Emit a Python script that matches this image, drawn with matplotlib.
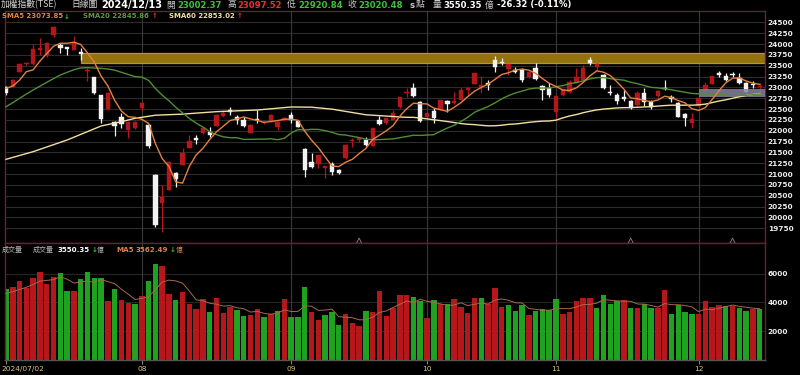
import numpy as np
import matplotlib
matplotlib.use('Agg')
import matplotlib.pyplot as plt
from matplotlib.patches import Rectangle
import matplotlib.transforms as mtransforms

plt.rcParams['font.family'] = ['DejaVu Sans', 'Noto Sans CJK TC']

# ---------------- data ----------------
opens = [23018, 23019, 23350, 23542, 23542, 23870, 23749, 24211, 23980, 23926,
         23865, 23826, 23380, 23234, 22819, 22496, 22211, 22326, 22019, 22057,
         22519, 22134, 20980, 20342, 20634, 21034, 21211, 21596, 21826, 21942,
         21980, 22111, 22342, 22480, 22326, 22250, 21957, 22260, 22172, 22211,
         22095, 22250, 22364, 22234, 21573, 21288, 21234, 21150, 21234, 21096,
         21365, 21757, 21788, 21788, 21650, 22250, 22172, 22250, 22542, 22865,
         22980, 22672, 22311, 22465, 22480, 22696, 22634, 22711, 22942, 23080,
         23019, 23111, 23634, 23596, 23419, 23403, 23403, 23234, 23442, 23034,
         22980, 22442, 22826, 22903, 23096, 23172, 23634, 23480, 23288, 22903,
         22826, 22772, 22696, 22596, 22880, 22672, 22803, 22980, 22772, 22649,
         22388, 22188, 22572, 22942, 23080, 23326, 23265, 23311, 23211, 23111,
         23057, 23002.37]
highs = [23030, 23190, 23572, 23596, 23995, 24134, 24060, 24416, 24034, 23942,
         24188, 23903, 23442, 23250, 22830, 22900, 22230, 22403, 22230, 22230,
         22672, 22150, 21000, 20749, 21300, 21057, 21595, 21903, 21903, 22080,
         22080, 22380, 22480, 22557, 22365, 22326, 22150, 22480, 22230, 22380,
         22230, 22330, 22440, 22250, 21600, 21480, 21442, 21190, 21288, 21110,
         21700, 21826, 21860, 21850, 22060, 22342, 22300, 22480, 22780, 22980,
         23096, 22680, 22420, 22519, 22720, 22711, 22900, 23019, 23019, 23342,
         23265, 23172, 23726, 23673, 23542, 23480, 23442, 23370, 23557, 23057,
         23096, 22826, 22960, 23172, 23442, 23519, 23696, 23560, 23300, 23057,
         22865, 22942, 22700, 22926, 22980, 22710, 22940, 23172, 22819, 22660,
         22400, 22400, 22760, 23134, 23270, 23388, 23342, 23365, 23342, 23120,
         23157, 23097.52]
lows = [22833, 23000, 23350, 23519, 23519, 23749, 23711, 24173, 23788, 23749,
        23865, 23634, 23149, 22850, 22172, 22480, 21888, 22057, 21826, 22040,
        22465, 21600, 19780, 19673, 20634, 20711, 21211, 21596, 21696, 21930,
        21865, 22100, 22326, 22365, 22157, 22096, 21942, 22172, 22150, 22200,
        22019, 22230, 22172, 22080, 20926, 21134, 21134, 20903, 20980, 21000,
        21350, 21634, 21750, 21650, 21640, 22134, 22160, 22240, 22530, 22788,
        22790, 22200, 22290, 22188, 22470, 22442, 22620, 22700, 22826, 23070,
        22865, 22942, 23365, 23519, 23288, 23327, 23134, 23220, 23172, 22711,
        22788, 22288, 22810, 22880, 23096, 23172, 23519, 23400, 22960, 22826,
        22619, 22696, 22500, 22572, 22572, 22496, 22790, 22942, 22672, 22326,
        22111, 22057, 22560, 22930, 23070, 23234, 23157, 23234, 23080, 22903,
        22980, 22920.84]
closes = [22879, 23172, 23534, 23572, 23880, 23900, 24018, 24390, 23917, 23880,
          24019, 23765, 23403, 22865, 22265, 22880, 22111, 22157, 22211, 22199,
          22649, 21638, 19831, 20480, 21288, 20880, 21480, 21770, 21790, 22057,
          21903, 22365, 22419, 22442, 22250, 22120, 22140, 22250, 22211, 22365,
          22211, 22300, 22250, 22095, 21092, 21173, 21442, 21180, 21057, 21019,
          21673, 21780, 21826, 21673, 22057, 22157, 22288, 22419, 22772, 22903,
          22803, 22224, 22403, 22288, 22711, 22619, 22688, 22942, 22980, 23342,
          23057, 23065, 23480, 23557, 23542, 23365, 23172, 23365, 23188, 22942,
          22820, 22800, 22957, 23134, 23250, 23442, 23557, 23535, 22980, 22865,
          22696, 22734, 22519, 22880, 22672, 22557, 22926, 22957, 22726, 22326,
          22288, 22262, 22749, 23057, 23265, 23288, 23172, 23288, 23096, 22903,
          23046.80, 23020.48]
volumes = [4917, 5079, 5519, 5009, 5704, 6097, 5310, 5796, 6051, 4778,
           4801, 5634, 6097, 5681, 5727, 4083, 4917, 4153, 3967, 3898,
           4454, 5472, 6676, 6560, 4570, 4176, 4708, 3921, 3528, 4222,
           3343, 4338, 3296, 3667, 3481, 3042, 3157, 3551, 2972, 3180,
           3435, 4245, 2995, 3018, 5102, 3319, 2787, 3111, 3366, 2440,
           3180, 2579, 2394, 3389, 3366, 4801, 3065, 3597, 4500, 4500,
           4384, 4083, 2903, 4199, 3898, 3875, 4222, 3667, 3250, 4315,
           4315, 3875, 5032, 3667, 3852, 3435, 3806, 3111, 3389, 3528,
           3458, 4268, 3204, 3366, 4107, 4315, 4315, 3644, 4546, 3921,
           4107, 4176, 3620, 3620, 3875, 3620, 3620, 4870, 3227, 3852,
           3343, 3180, 3204, 4083, 3667, 3852, 3736, 3750, 3600, 3400,
           3510, 3550.35]

sma5_warm = [22980, 23034, 23172, 23365]
sma20_warm = [22557, 22650, 22750, 22850, 22942, 23030, 23120, 23205, 23288, 23350,
              23410, 23450, 23457, 23450, 23441, 23426, 23400, 23350, 23300]
sma60_read_idx = [0, 4, 9, 14, 17, 19, 22, 26, 31, 37, 42, 45, 48, 53, 58]
sma60_read = [21342, 21519, 21788, 22111, 22211, 22288, 22360, 22385, 22442, 22480,
              22550, 22545, 22500, 22370, 22320]
volma5_warm = [4620, 4750, 4900, 5050]

month_idx = [0, 20, 42, 62, 81, 102]
month_lbl = ['2024/07/02', '08', '09', '10', '11', '12']
price_ticks = list(range(19750, 24501, 250))
vol_ticks = [2000, 4000, 6000]

zone_top = (11, 23575, 23790)      # start index, low, high
zone_bot = (102, 22787, 22958)
event_idx = [52, 92, 107]

# ---------------- helpers ----------------
W, H = 800, 375
n = len(closes)
x = np.arange(n)
o = np.array(opens, float); h = np.array(highs, float)
l = np.array(lows, float); c = np.array(closes, float)
v = np.array(volumes, float)


def sma(a, k):
    out = np.full(len(a), np.nan)
    cs = np.cumsum(np.insert(a, 0, 0.0))
    out[k - 1:] = (cs[k:] - cs[:-k]) / k
    return out


sma5 = sma(c, 5); sma5[:4] = sma5_warm
sma20 = sma(c, 20); sma20[:19] = sma20_warm
s60 = sma(c, 60)
sma60_x = list(sma60_read_idx) + list(range(59, n))
sma60_y = list(sma60_read) + list(s60[59:])
vma5 = sma(v, 5); vma5[:4] = volma5_warm

RED = '#b3161b'
WHITE = '#f2f2f2'
VRED = '#b5171b'
VGREEN = '#1fa21f'
FRAME = '#5c2533'
GRID = '#2c2c2c'

fig = plt.figure(figsize=(W / 100, H / 100), dpi=100, facecolor='black')
ax = fig.add_axes([5 / W, 1 - 243 / H, 760 / W, 232 / H], facecolor='black')
axv = fig.add_axes([5 / W, 1 - 360 / H, 760 / W, 117 / H], facecolor='black', sharex=ax)

xlo, xhi = -0.15, 111.78
ax.set_xlim(xlo, xhi)
ax.set_ylim(19411, 24765)
axv.set_ylim(0, 8125)

# grids
for p in price_ticks:
    ax.axhline(p, color=GRID, lw=0.8, zorder=0)
for vt in vol_ticks:
    axv.axhline(vt, color='#262626', lw=0.8, zorder=0)
for mi in month_idx[1:]:
    ax.axvline(mi, color='#3a3a3a', lw=0.8, zorder=0)
    axv.axvline(mi, color='#3a3a3a', lw=0.8, zorder=0)

# zones
ax.add_patch(Rectangle((zone_top[0], zone_top[1]), xhi - zone_top[0], zone_top[2] - zone_top[1],
                       facecolor='#92720f', edgecolor='#b8962c', lw=0.9, zorder=1))
ax.add_patch(Rectangle((zone_bot[0], zone_bot[1]), xhi - zone_bot[0], zone_bot[2] - zone_bot[1],
                       facecolor='#8a82a0', edgecolor='none', alpha=0.85, zorder=4))

# candles
up = c >= o
cols = np.where(up, RED, WHITE)
body_lo = np.minimum(o, c)
body_h = np.maximum(np.abs(c - o), 28)
ax.vlines(x, l, h, colors=cols, lw=0.9, zorder=2)
ax.bar(x, body_h, bottom=body_lo, width=0.64, color=cols, edgecolor=cols, lw=0.3, zorder=3)

# moving averages
ax.plot(sma60_x, sma60_y, color='#f2dfa0', lw=1.0, zorder=5)
ax.plot(x, sma20, color='#4f8f32', lw=1.0, zorder=5)
ax.plot(x, sma5, color='#e5813f', lw=1.0, zorder=6)

# event triangles
trans = mtransforms.blended_transform_factory(ax.transData, ax.transAxes)
ax.scatter(event_idx, [0.01] * len(event_idx), marker='^', s=14, facecolors='none',
           edgecolors='#8a8a8a', linewidths=0.6, transform=trans, zorder=7, clip_on=False)

# volume
prev = np.concatenate([[o[0]], c[:-1]])
vcols = np.where(c > prev, VRED, VGREEN)
axv.bar(x, v, width=0.8, color=vcols, zorder=2)
axv.plot(x, vma5, color='#a8694c', lw=0.7, zorder=3)

# axes styling
for a in (ax, axv):
    a.yaxis.tick_right()
    a.tick_params(axis='y', length=0, pad=2.0, labelsize=5.3, labelcolor='#ececec')
    for sp in a.spines.values():
        sp.set_color(FRAME)
        sp.set_linewidth(1.0)
ax.set_yticks(price_ticks)
ax.set_yticklabels([str(t) for t in price_ticks], fontweight='bold')
axv.set_yticks(vol_ticks)
axv.set_yticklabels([str(t) for t in vol_ticks], fontweight='bold')
ax.tick_params(axis='x', bottom=False, labelbottom=False)
axv.spines['bottom'].set_color('#555555')
axv.set_xticks(month_idx)
axv.set_xticklabels(month_lbl)
axv.tick_params(axis='x', length=3, width=0.7, color='#888888', pad=1.5,
                labelsize=5.4, labelcolor='#d6c47a')
lbls = axv.get_xticklabels()
lbls[0].set_horizontalalignment('left')
fig.canvas.draw()
off = mtransforms.ScaledTranslation(-5 / 100, 0, fig.dpi_scale_trans)
lbls[0].set_transform(lbls[0].get_transform() + off)


def ftext(xp, yp, s, color, size, weight='normal', fam=None):
    kw = {}
    if fam:
        kw['family'] = fam
    fig.text(xp / W, 1 - yp / H, s, color=color, fontsize=size, fontweight=weight,
             ha='left', va='center', **kw)


CJK = ['Noto Sans CJK TC', 'DejaVu Sans']
G = '#3cc23c'
R = '#e63232'
GR = '#c8c8c8'
# header
ftext(1, 5, '加權指數(TSE)', '#d8d8d8', 6.3, fam=CJK)
ftext(71, 5, '日線圖', '#d8d8d8', 6.3, fam=CJK)
ftext(101, 5, '2024/12/13', 'white', 7.0, 'bold')
ftext(166, 5, '開', GR, 6.3, fam=CJK)
ftext(177, 5, '23002.37', G, 6.1, 'bold')
ftext(227, 5, '高', GR, 6.3, fam=CJK)
ftext(237, 5, '23097.52', R, 6.1, 'bold')
ftext(287, 5, '低', GR, 6.3, fam=CJK)
ftext(298, 5, '22920.84', G, 6.1, 'bold')
ftext(347, 5, '收', GR, 6.3, fam=CJK)
ftext(358, 5, '23020.48', G, 6.1, 'bold')
ftext(409, 5, 's', GR, 6.1, 'bold')
ftext(416, 5, '點', GR, 6.3, fam=CJK)
ftext(433, 5, '量', GR, 6.3, fam=CJK)
ftext(443, 5, '3550.35', 'white', 6.1, 'bold')
ftext(485, 5, '億', GR, 6.3, fam=CJK)
ftext(497, 5, '-26.32 (-0.11%)', 'white', 6.1, 'bold')

# SMA legend
ftext(2, 16.5, 'SMA5 23073.85', '#e5813f', 5.0, 'bold')
ftext(64, 16.5, '↓', G, 5.0, 'bold')
ftext(83, 16.5, 'SMA20 22845.86', '#5a9a3a', 5.0, 'bold')
ftext(152, 16.5, '↑', R, 5.0, 'bold')
ftext(169, 16.5, 'SMA60 22853.02', '#f0e0a0', 5.0, 'bold')
ftext(237, 16.5, '↑', R, 5.0, 'bold')

# volume legend
ftext(2, 250, '成交量', '#b8b8b8', 5.0, fam=CJK)
ftext(33, 250, '成交量', '#b8b8b8', 5.0, fam=CJK)
ftext(58, 250, '3550.35', 'white', 5.1, 'bold')
ftext(92, 250, '↓', G, 5.0, 'bold')
ftext(97, 250, '億', '#b8b8b8', 5.0, fam=CJK)
ftext(116, 250, 'MA5', '#e0804a', 5.1, 'bold')
ftext(136, 250, '3562.49', '#e0804a', 5.1, 'bold')
ftext(170, 250, '↓', G, 5.0, 'bold')
ftext(176, 250, '億', '#e0804a', 5.0, fam=CJK)

fig.savefig('out.png', dpi=100, facecolor='black')
